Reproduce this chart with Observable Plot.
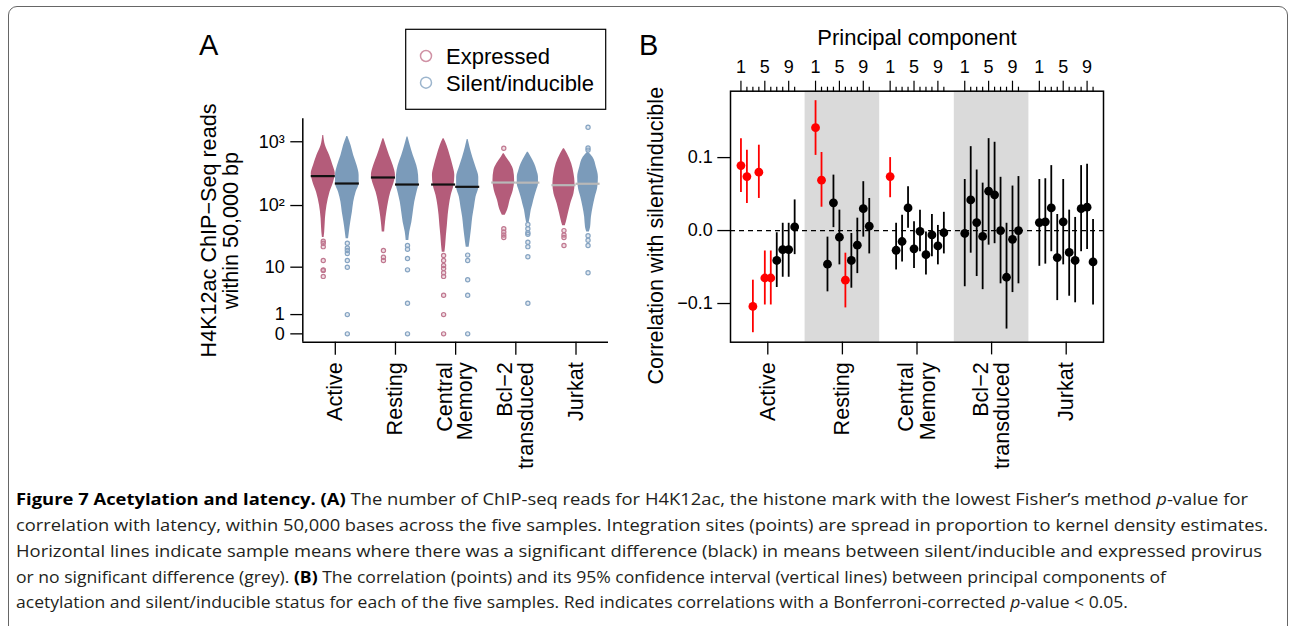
<!DOCTYPE html>
<html><head><meta charset="utf-8">
<script src="https://cdn.jsdelivr.net/npm/d3@7"></script>
<script src="https://cdn.jsdelivr.net/npm/@observablehq/plot@0.6"></script>
<style>
body{margin:0;width:1292px;height:626px;overflow:hidden;background:#fff;position:relative;font-family:"Liberation Sans",Arial,sans-serif;}
#frame{position:absolute;left:8px;top:6px;width:1280px;height:700px;border:1.5px solid #666;border-radius:9px;box-sizing:border-box;}
.abs{position:absolute;}
svg{overflow:visible;}
</style></head><body>
<div id="frame"></div>
<div class="abs" id="panelA" style="left:190px;top:100px;"></div>
<div class="abs" id="panelB" style="left:600px;top:10px;"></div>
<svg class="abs" style="left:0;top:0" width="1292" height="460" font-family="Liberation Sans, Arial, sans-serif">
  <text x="199" y="55" font-size="29">A</text>
  <text x="639" y="55" font-size="29">B</text>
  <rect x="405.7" y="29.3" width="200" height="80" fill="none" stroke="black" stroke-width="1.2"/>
  <circle cx="426" cy="56" r="5.5" fill="none" stroke="#d092a5" stroke-width="1.5"/>
  <text x="446" y="64" font-size="22">Expressed</text>
  <circle cx="426" cy="82.7" r="5.5" fill="none" stroke="#9cb5cd" stroke-width="1.5"/>
  <text x="446" y="90.7" font-size="22">Silent/inducible</text>
</svg>
<svg class="abs" style="left:0;top:460px" width="1292" height="166" font-family="Open Sans, Noto Sans, sans-serif" font-size="16.5" fill="#231f20">
  <text x="16" y="45" textLength="1232" lengthAdjust="spacingAndGlyphs"><tspan font-weight="bold" fill="#000">Figure 7 Acetylation and latency. (A)</tspan> The number of ChIP-seq reads for H4K12ac, the histone mark with the lowest Fisher’s method <tspan font-style="italic">p</tspan>-value for</text>
  <text x="16" y="71" textLength="1252" lengthAdjust="spacingAndGlyphs">correlation with latency, within 50,000 bases across the five samples. Integration sites (points) are spread in proportion to kernel density estimates.</text>
  <text x="16" y="96.5" textLength="1246" lengthAdjust="spacingAndGlyphs">Horizontal lines indicate sample means where there was a significant difference (black) in means between silent/inducible and expressed provirus</text>
  <text x="16" y="122.5" textLength="1150" lengthAdjust="spacingAndGlyphs">or no significant difference (grey). <tspan font-weight="bold" fill="#000">(B)</tspan> The correlation (points) and its 95% confidence interval (vertical lines) between principal components of</text>
  <text x="16" y="148" textLength="1112" lengthAdjust="spacingAndGlyphs">acetylation and silent/inducible status for each of the five samples. Red indicates correlations with a Bonferroni-corrected <tspan font-style="italic">p</tspan>-value &lt; 0.05.</text>
</svg>
<script>
// ---------- shared categories ----------
const samples = ["Active", "Resting", "Central\nMemory", "Bcl\u22122\ntransduced", "Jurkat"];
const statuses = ["Expressed", "Silent/inducible"];

// ---------- Panel A: violin outlines [reads, relative kernel density width] ----------
const vActiveExp  = [[31,.07],[38,.12],[62,.18],[100,.31],[162,.56],[233,.86],[315,1.0],[426,.81],[610,.53],[874,.18],[1257,.04]];
const vActiveSil  = [[29.5,.1],[38,.17],[54,.28],[78,.42],[113,.53],[162,.73],[220,.98],[296,.98],[426,.81],[610,.53],[874,.31],[1212,.04]];
const vRestingExp = [[38,.1],[54,.17],[78,.28],[113,.42],[162,.61],[220,.86],[296,1.0],[426,.81],[610,.5],[874,.22],[1113,.04]];
const vRestingSil = [[27.7,.11],[38,.19],[54,.36],[78,.48],[113,.6],[162,.79],[220,.94],[296,.92],[426,.77],[610,.48],[874,.23],[1190,.04]];
const vMemoryExp  = [[17.8,.11],[23,.17],[33,.23],[48,.31],[70,.38],[100,.48],[144,.63],[206,.86],[296,.93],[426,.77],[610,.54],[874,.28],[1113,.04]];
const vMemorySil  = [[21.5,.12],[31,.23],[45,.33],[65,.42],[94,.56],[135,.69],[194,.92],[279,.92],[400,.69],[573,.42],[823,.19],[1086,.04]];
const vBcl2Exp    = [[70,.12],[84,.31],[120,.52],[172,.79],[247,.9],[355,.82],[452,.58],[573,.21],[648,.04]];
const vBcl2Sil    = [[54,.11],[65,.19],[84,.28],[106,.42],[135,.56],[172,.73],[220,.88],[279,.88],[355,.75],[452,.56],[573,.28],[688,.04]];
const vJurkatExp  = [[48,.11],[54,.19],[74,.36],[106,.56],[153,.83],[220,.92],[315,.83],[452,.64],[648,.28],[777,.04]];
const vJurkatSil  = [[38,.11],[45,.21],[65,.28],[94,.42],[135,.6],[194,.81],[279,.86],[400,.69],[573,.4],[688,.04]];

// isolated integration sites (reads)
const oActiveExp  = [27, 25, 22, 13, 9, 8.8, 6.9];
const oActiveSil  = [25, 21, 19, 17, 13, 10, 1, 0];
const oRestingExp = [19, 14.7, 13];
const oRestingSil = [23, 20, 14, 9, 2, 0];
const oMemoryExp  = [15.7, 13, 10.7, 9.5, 8, 6.9, 3, 1, 0];
const oMemorySil  = [16, 13, 6, 3, 0];
const oBcl2Exp    = [790, 43, 38, 34, 31];
const oBcl2Sil    = [50, 43, 37, 35, 26, 22, 15, 2];
const oJurkatExp  = [40, 34, 31, 23];
const oJurkatSil  = [1690, 800, 740, 33, 28, 23, 8];

// sample means and significance
const meanExpressed = [290, 276, 214, 230, 209];
const meanSilent    = [222, 214, 197, 229, 220];
const meanSignificant = [true, true, true, false, false];

const yTicksA = [0, 1, 10, 100, 1000];
const yTickLabelsA = ["0", "1", "10", "10\u00B2", "10\u00B3"];

// ---------- Panel B: [correlation, lower 95%, upper 95%, significant] for PC 1..10 ----------
const pcActive = [[0.089,0.052,0.126,1],[0.074,0.037,0.110,1],[-0.104,-0.140,-0.068,1],[0.080,0.044,0.117,1],[-0.065,-0.102,-0.028,1],
                  [-0.065,-0.102,-0.028,1],[-0.041,-0.078,-0.003,0],[-0.026,-0.064,0.010,0],[-0.026,-0.064,0.010,0],[0.005,-0.033,0.042,0]];
const pcResting = [[0.141,0.103,0.178,1],[0.069,0.032,0.107,1],[-0.046,-0.084,-0.009,0],[0.038,0.004,0.076,0],[-0.009,-0.047,0.028,0],
                   [-0.068,-0.106,-0.031,1],[-0.041,-0.079,-0.004,0],[-0.020,-0.059,0.017,0],[0.030,-0.009,0.067,0],[0.006,-0.032,0.044,0]];
const pcMemory = [[0.074,0.045,0.100,1],[-0.027,-0.054,0.010,0],[-0.015,-0.043,0.021,0],[0.031,0.003,0.060,0],[-0.025,-0.052,0.012,0],
                  [-0.001,-0.029,0.028,0],[-0.033,-0.061,-0.002,0],[-0.006,-0.036,0.022,0],[-0.021,-0.047,0.007,0],[-0.003,-0.032,0.025,0]];
const pcBcl2 = [[-0.004,-0.077,0.070,0],[0.042,-0.031,0.115,0],[0.011,-0.063,0.083,0],[-0.008,-0.081,0.065,0],[0.054,-0.020,0.126,0],
                [0.049,-0.018,0.121,0],[0.000,-0.073,0.073,0],[-0.064,-0.135,0.010,0],[-0.012,-0.085,0.061,0],[0.000,-0.073,0.074,0]];
const pcJurkat = [[0.011,-0.049,0.070,0],[0.012,-0.046,0.071,0],[0.031,-0.029,0.089,0],[-0.037,-0.096,0.022,0],[0.012,-0.047,0.070,0],
                  [-0.030,-0.090,0.028,0],[-0.041,-0.099,0.018,0],[0.030,-0.029,0.089,0],[0.032,-0.026,0.091,0],[-0.043,-0.102,0.015,0]];
const pcLabels = [1, 5, 9];
const yTicksB = [-0.1, 0, 0.1];

// ---------- build Panel A ----------
const colA = ["#b45c7a", "#7b9bba"];
const colDot = ["#c07890", "#86a4c2"];
const offA = [-0.2, 0.2];
const maxHW = 0.2;
const violinSets = [vActiveExp, vActiveSil, vRestingExp, vRestingSil, vMemoryExp, vMemorySil, vBcl2Exp, vBcl2Sil, vJurkatExp, vJurkatSil];
const outlierSets = [oActiveExp, oActiveSil, oRestingExp, oRestingSil, oMemoryExp, oMemorySil, oBcl2Exp, oBcl2Sil, oJurkatExp, oJurkatSil];
const violinRows = [];
violinSets.forEach((prof, k) => {
  const gi = Math.floor(k / 2), si = k % 2;
  prof.slice().sort((a, b) => a[0] - b[0]).forEach(([reads, rel]) => violinRows.push({k, gi, si, reads, rel}));
});
const outlierRows = [];
outlierSets.forEach((arr, k) => arr.forEach(reads => outlierRows.push({gi: Math.floor(k / 2), si: k % 2, reads})));
const meanRows = [];
samples.forEach((s, i) => {
  meanRows.push({gi: i, si: 0, reads: meanExpressed[i], sig: meanSignificant[i]});
  meanRows.push({gi: i, si: 1, reads: meanSilent[i], sig: meanSignificant[i]});
});
const xA0 = 0.46, xA1 = 5.54, yA0 = -0.35, yA1 = 2285;

const plotA = Plot.plot({
  width: 430, height: 380,
  marginLeft: 112.3, marginRight: 12, marginTop: 18.3, marginBottom: 138.3,
  style: {fontFamily: "Liberation Sans, Arial, sans-serif", color: "black", background: "transparent", overflow: "visible"},
  x: {domain: [xA0, xA1]},
  y: {type: "symlog", constant: 1, domain: [yA0, yA1]},
  color: {type: "identity"},
  marks: [
    Plot.areaX(violinRows, {
      z: "k", y: "reads",
      x1: d => d.gi + 1 + offA[d.si] - d.rel * maxHW,
      x2: d => d.gi + 1 + offA[d.si] + d.rel * maxHW,
      fill: d => colA[d.si], curve: "monotone-y"
    }),
    Plot.dot(outlierRows, {x: d => d.gi + 1 + offA[d.si], y: "reads", r: 2.1, stroke: d => colDot[d.si], fill: d => colDot[d.si], fillOpacity: 0.25, strokeWidth: 1.2}),
    Plot.ruleY(meanRows, {y: "reads", x1: d => d.gi + 1 + offA[d.si] - 0.2, x2: d => d.gi + 1 + offA[d.si] + 0.2,
      stroke: d => d.sig ? "#111" : "#b8b8b8", strokeWidth: 2.2}),
    Plot.ruleX([xA0], {stroke: "black", strokeWidth: 1.5}),
    Plot.ruleY([yA0], {stroke: "black", strokeWidth: 1.5}),
    Plot.axisY({ticks: yTicksA, tickFormat: d => yTickLabelsA[yTicksA.indexOf(d)], tickSize: 12, tickPadding: 6, fontSize: 18, strokeWidth: 1.3, label: null}),
    Plot.axisX({ticks: [1, 2, 3, 4, 5], tickSize: 13, tickFormat: () => "", strokeWidth: 1.3, label: null}),
    Plot.text(samples, {x: (d, i) => i + 1, text: d => d, frameAnchor: "bottom", dy: 20, rotate: -90,
      textAnchor: "end", lineAnchor: "middle", fontSize: 21.6, lineHeight: 0.95}),
    Plot.text(["H4K12ac ChIP\u2212Seq reads\nwithin 50,000 bp"], {text: d => d, frameAnchor: "left", dx: -82.5, rotate: -90,
      textAnchor: "middle", lineAnchor: "middle", fontSize: 21.6, lineHeight: 1.0})
  ]
});
document.getElementById("panelA").appendChild(plotA);

// ---------- build Panel B ----------
const period = 12.5;
const pcSets = [pcActive, pcResting, pcMemory, pcBcl2, pcJurkat];
const corrRows = [];
pcSets.forEach((arr, g) => arr.forEach(([r, lo, hi, sig], j) => corrRows.push({x: g * period + j + 1, r, lo, hi, sig})));
const bandRows = samples.map((s, g) => ({g, x1: g * period - 0.75, x2: g * period + 11.75})).filter(d => d.g % 2 === 1);
const majorTicks = [], minorTicks = [], tickLabel = new Map();
samples.forEach((s, g) => {
  for (let p = 1; p <= 10; p++) {
    const x = g * period + p;
    if (pcLabels.includes(p)) { majorTicks.push(x); tickLabel.set(x, String(p)); } else minorTicks.push(x);
  }
});
const centersB = samples.map((s, g) => g * period + 5.5);
const xB0 = -0.75, xB1 = 4 * period + 11.75, yB0 = -0.153, yB1 = 0.191;

const plotB = Plot.plot({
  width: 530, height: 470,
  marginLeft: 130, marginRight: 27, marginTop: 80.7, marginBottom: 138.3,
  style: {fontFamily: "Liberation Sans, Arial, sans-serif", color: "black", background: "transparent", overflow: "visible"},
  x: {domain: [xB0, xB1]},
  y: {domain: [yB0, yB1]},
  color: {type: "identity"},
  marks: [
    Plot.rect(bandRows, {x1: "x1", x2: "x2", fill: "#dadada"}),
    Plot.ruleY([0], {stroke: "black", strokeWidth: 1.2, strokeDasharray: "5,4"}),
    Plot.ruleX(corrRows, {x: "x", y1: "lo", y2: "hi", stroke: d => d.sig ? "#ff0000" : "#000", strokeWidth: 1.8}),
    Plot.dot(corrRows, {x: "x", y: "r", r: 4.4, fill: d => d.sig ? "#ff0000" : "#000"}),
    Plot.frame({stroke: "black", strokeWidth: 1.5}),
    Plot.axisY({ticks: yTicksB, tickFormat: d => (d < 0 ? "\u2212" : "") + Math.abs(d).toFixed(1), tickSize: 12.7, tickPadding: 5, fontSize: 18, strokeWidth: 1.3, label: null}),
    Plot.axisX({anchor: "top", ticks: majorTicks, tickSize: 11, tickPadding: 7, tickFormat: d => tickLabel.get(d), fontSize: 18, strokeWidth: 1.2, label: null}),
    Plot.axisX({anchor: "top", ticks: minorTicks, tickSize: 5, tickFormat: () => "", strokeWidth: 1.2, label: null}),
    Plot.axisX({anchor: "bottom", ticks: centersB, tickSize: 12.7, tickFormat: () => "", strokeWidth: 1.3, label: null}),
    Plot.text(samples, {x: (d, i) => centersB[i], text: d => d, frameAnchor: "bottom", dy: 20, rotate: -90,
      textAnchor: "end", lineAnchor: "middle", fontSize: 21.6, lineHeight: 1.0}),
    Plot.text(["Principal component"], {text: d => d, frameAnchor: "top", dy: -45.7, lineAnchor: "bottom", fontSize: 22}),
    Plot.text(["Correlation with silent/inducible"], {text: d => d, frameAnchor: "left", dx: -74.7, dy: 19, rotate: -90,
      textAnchor: "middle", lineAnchor: "middle", fontSize: 21.6})
  ]
});
document.getElementById("panelB").appendChild(plotB);
</script>
</body></html>
